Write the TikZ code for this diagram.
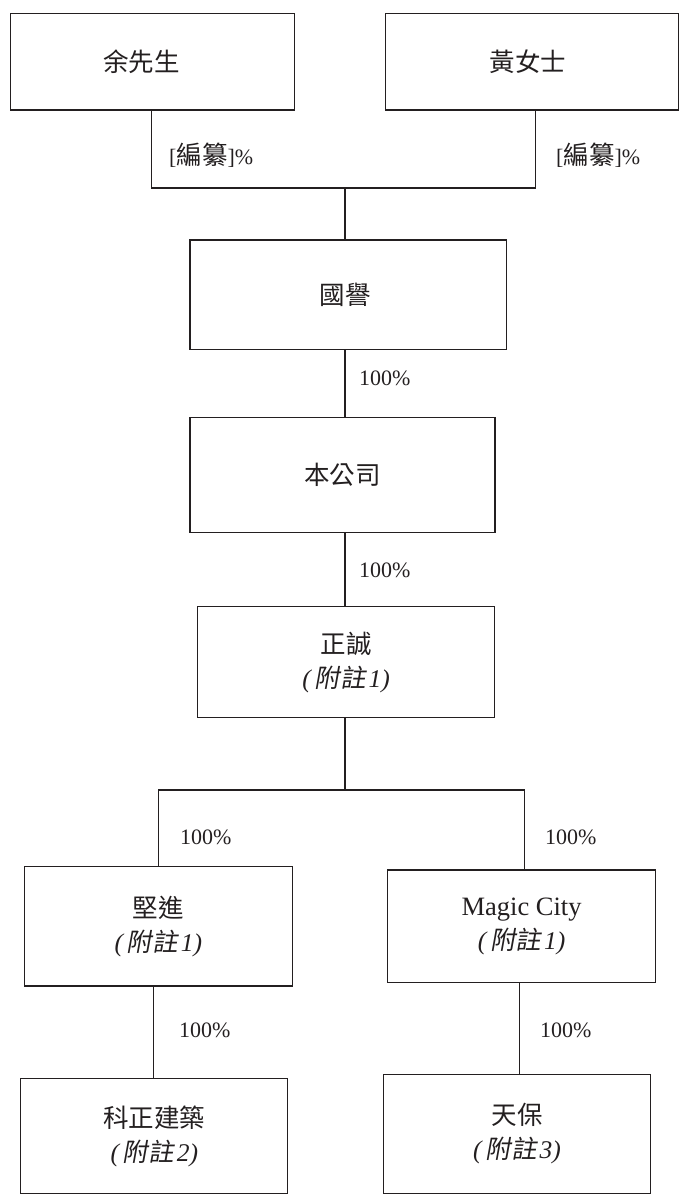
\documentclass[tikz,border=0pt]{standalone}
\usepackage{fontspec}
\setmainfont{Liberation Serif}
\newfontfamily\cjk{Noto Sans CJK TC}
\newfontfamily\cjkit[FakeSlant=0.18]{Noto Sans CJK TC}
\newcommand\fz[1]{\textit{(}\kern2.5pt{\cjkit 附註}\kern3pt\textit{#1)}}
\definecolor{ink}{HTML}{231F20}
\begin{document}
\begin{tikzpicture}[x=1pt,y=-1pt,
  box/.style={draw=ink, line width=1.2pt, align=center, inner sep=0pt, text=ink,
    font=\fontsize{25.5}{34}\selectfont},
  lab/.style={anchor=west, inner sep=0pt, text=ink, font=\fontsize{22}{26}\selectfont},
  conn/.style={draw=ink, line width=1.2pt}]
\useasboundingbox (0,0) rectangle (679,1194);
% boxes
\node[box, minimum width=283.7pt, minimum height=96.7pt] (yu) at (152.6,61.7) {\hspace*{-22pt}\cjk 余先生};
\node[box, minimum width=292.8pt, minimum height=96.7pt] (huang) at (532,61.7) {\hspace*{-8pt}\cjk 黃女士};
\node[box, minimum width=316.7pt, minimum height=109.3pt] (guoyu) at (348.3,294.6) {\hspace*{-6pt}\cjk 國譽};
\node[box, minimum width=305pt, minimum height=115pt] (bengs) at (342.5,475.2) {\cjk 本公司};
\node[box, minimum width=297pt, minimum height=111pt] (zc) at (346.2,662.2) {{\cjk 正誠}\\\fz{1}};
\node[box, minimum width=267.5pt, minimum height=119.3pt] (jj) at (158.4,926.3) {{\cjk 堅進}\\\fz{1}};
\node[box, minimum width=268.3pt, minimum height=112.7pt] (mc) at (521.6,926.3) {{\fontsize{26.5}{34}\selectfont Magic City}\\\fz{1}};
\node[box, minimum width=267pt, minimum height=115pt] (kz) at (154.3,1135.9) {{\cjk 科正建築}\\\fz{2}};
\node[box, minimum width=267pt, minimum height=119pt] (tb) at (517,1133.9) {{\cjk 天保}\\\fz{3}};
% junctions
\coordinate (j1) at (345,188);
\coordinate (j2) at (345,790);
% connectors
\draw[conn] ([xshift=-1pt]yu.south) |- (j1) -| ([xshift=3.6pt]huang.south);
\draw[conn] (j1) -- (j1 |- guoyu.north);
\draw[conn] (j1 |- guoyu.south) -- (j1 |- bengs.north);
\draw[conn] (j1 |- bengs.south) -- (j1 |- zc.north);
\draw[conn] (j2 |- zc.south) -- (j2);
\draw[conn] (jj.north) |- (j2) -| ([xshift=2.7pt]mc.north);
\draw[conn] ([xshift=-4.7pt]jj.south) -- ([xshift=-0.6pt]kz.north);
\draw[conn] ([xshift=-2.1pt]mc.south) -- ([xshift=2.5pt]tb.north);
% labels
\node[lab] (l1) at (169,155) {[{\fontsize{25.5}{26}\selectfont\cjk 編纂}]\%};
\node[lab] (l2) at (556,155) {[{\fontsize{25.5}{26}\selectfont\cjk 編纂}]\%};
\node[lab] (l3) at (359,378) {100\%};
\node[lab] (l4) at (359,570) {100\%};
\node[lab] (l5) at (180,837) {100\%};
\node[lab] (l6) at (545,837) {100\%};
\node[lab] (l7) at (179,1030) {100\%};
\node[lab] (l8) at (540,1030) {100\%};
\end{tikzpicture}
\end{document}
